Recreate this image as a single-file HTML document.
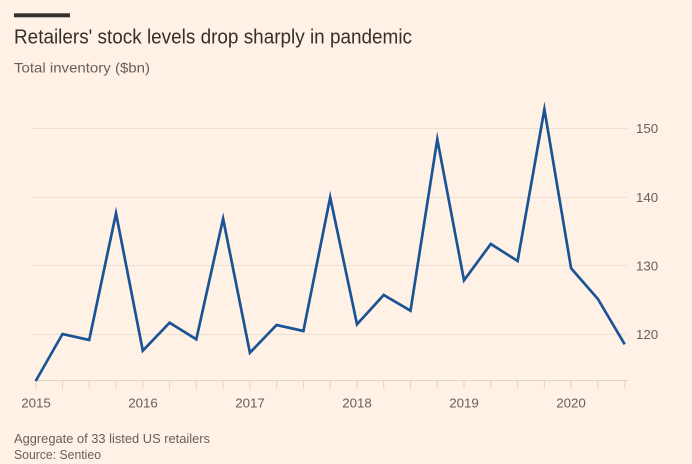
<!DOCTYPE html>
<html><head><meta charset="utf-8"><style>
html,body{margin:0;padding:0;background:#fff1e5;}
svg{display:block;}
</style></head><body>
<svg width="692" height="464" viewBox="0 0 692 464" xmlns="http://www.w3.org/2000/svg" font-family="Liberation Sans, Arial, sans-serif">
<rect x="0" y="0" width="692" height="464" fill="#fff1e5"/>
<rect x="14" y="13.3" width="56" height="4" fill="#33302e"/>
<text x="14" y="43.3" font-size="20" fill="#33302e" textLength="398" lengthAdjust="spacingAndGlyphs">Retailers' stock levels drop sharply in pandemic</text>
<text x="14" y="72.7" font-size="14" fill="#66605c" textLength="136" lengthAdjust="spacingAndGlyphs">Total inventory ($bn)</text>
<g stroke="#ecdfd4" stroke-width="1">
<line x1="32" y1="128.5" x2="627" y2="128.5"/>
<line x1="32" y1="197.5" x2="627" y2="197.5"/>
<line x1="32" y1="265.5" x2="627" y2="265.5"/>
<line x1="32" y1="334.5" x2="627" y2="334.5"/>
</g>
<g stroke="#e0d3c8" stroke-width="1">
<line x1="35" y1="380.5" x2="628" y2="380.5"/>
<line x1="35.7" y1="380" x2="35.7" y2="389"/>
<line x1="62.5" y1="380" x2="62.5" y2="389"/>
<line x1="89.2" y1="380" x2="89.2" y2="389"/>
<line x1="116" y1="380" x2="116" y2="389"/>
<line x1="142.8" y1="380" x2="142.8" y2="389"/>
<line x1="169.6" y1="380" x2="169.6" y2="389"/>
<line x1="196.3" y1="380" x2="196.3" y2="389"/>
<line x1="223.1" y1="380" x2="223.1" y2="389"/>
<line x1="249.9" y1="380" x2="249.9" y2="389"/>
<line x1="276.6" y1="380" x2="276.6" y2="389"/>
<line x1="303.4" y1="380" x2="303.4" y2="389"/>
<line x1="330.2" y1="380" x2="330.2" y2="389"/>
<line x1="357" y1="380" x2="357" y2="389"/>
<line x1="383.7" y1="380" x2="383.7" y2="389"/>
<line x1="410.5" y1="380" x2="410.5" y2="389"/>
<line x1="437.3" y1="380" x2="437.3" y2="389"/>
<line x1="464" y1="380" x2="464" y2="389"/>
<line x1="490.8" y1="380" x2="490.8" y2="389"/>
<line x1="517.6" y1="380" x2="517.6" y2="389"/>
<line x1="544.4" y1="380" x2="544.4" y2="389"/>
<line x1="571.1" y1="380" x2="571.1" y2="389"/>
<line x1="597.9" y1="380" x2="597.9" y2="389"/>
<line x1="624.7" y1="380" x2="624.7" y2="389"/>
</g>
<g font-size="13.3" fill="#66605c" text-anchor="middle">
<text x="36" y="407.5">2015</text>
<text x="143" y="407.5">2016</text>
<text x="250" y="407.5">2017</text>
<text x="357" y="407.5">2018</text>
<text x="464" y="407.5">2019</text>
<text x="571" y="407.5">2020</text>
</g>
<g font-size="13.3" fill="#66605c">
<text x="636" y="133">150</text>
<text x="636" y="202">140</text>
<text x="636" y="270.5">130</text>
<text x="636" y="339">120</text>
</g>
<polyline fill="none" stroke="#1b5494" stroke-width="2.7" stroke-linejoin="miter" stroke-miterlimit="10" points="
35.7,381 62.5,334 89.2,340 116,213.3 142.8,350.7 169.6,322.7 196.3,339.3 223.1,218.7 249.9,352.7 276.6,325 303.4,331 330.2,197.3 357,324.3 383.7,295 410.5,310.7 437.3,139.3 464,280.3 490.8,244 517.6,261 544.4,109.3 571.1,268.3 597.9,299 624.7,344.3"/>
<text x="14" y="443" font-size="12.5" fill="#66605c" textLength="196" lengthAdjust="spacingAndGlyphs">Aggregate of 33 listed US retailers</text>
<text x="14" y="459" font-size="12.5" fill="#66605c" textLength="87" lengthAdjust="spacingAndGlyphs">Source: Sentieo</text>
</svg>
</body></html>
